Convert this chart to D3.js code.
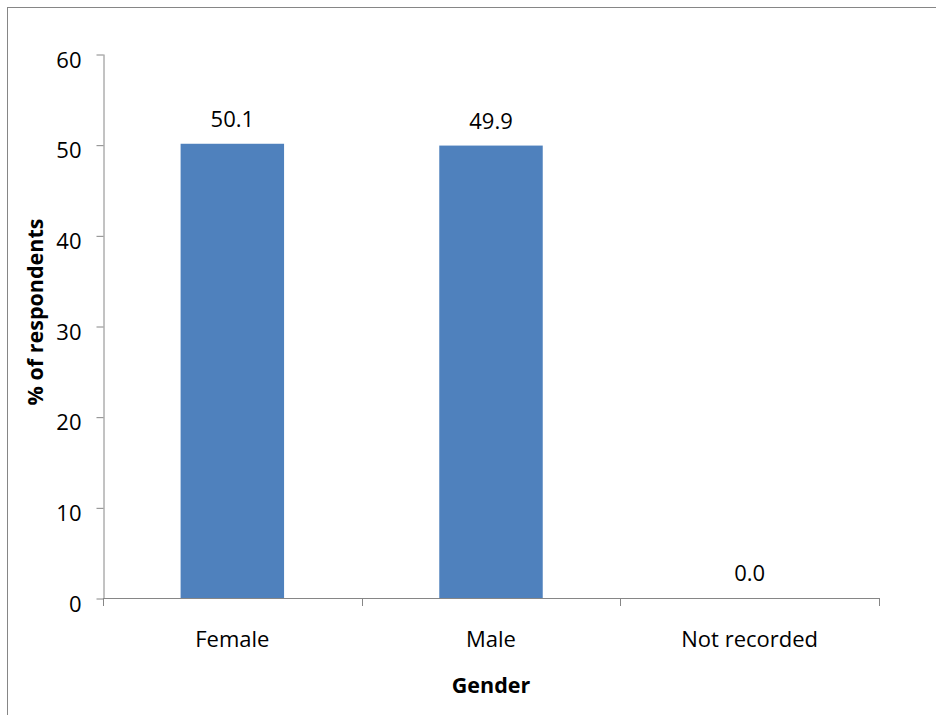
<!DOCTYPE html>
<html>
<head>
<meta charset="utf-8">
<script src="https://cdn.jsdelivr.net/npm/d3@7"></script>
<style>
  html, body { margin: 0; padding: 0; background: #fff; }
  svg { display: block; }
  text { font-family: "Open Sans", "Noto Sans", sans-serif; fill: #000; }
</style>
</head>
<body>
<svg id="chart" width="936" height="715"></svg>
<script>
// Respondents by gender (%)
const categories = ["Female", "Male", "Not recorded"];
const values = [50.1, 49.9, 0.0];
const yTicks = [0, 10, 20, 30, 40, 50, 60];
const yTitle = "% of respondents";
const xTitle = "Gender";

const svg = d3.select("#chart");
const plot = { left: 103, right: 879, top: 54, bottom: 598 };
const axisColor = "#868686";

// outer chart frame (extends past the window on the right and bottom)
svg.append("rect")
  .attr("x", 7.5).attr("y", 7.5)
  .attr("width", 1200).attr("height", 1200)
  .attr("fill", "none").attr("stroke", axisColor).attr("stroke-width", 1);

const x = d3.scaleBand()
  .domain(categories)
  .range([plot.left, plot.right])
  .paddingInner(0.6)
  .paddingOuter(0.3);

const y = d3.scaleLinear().domain([0, 60]).range([plot.bottom, plot.top]);

// y axis
const yAxis = svg.append("g")
  .attr("transform", `translate(${plot.left + 0.5},0)`)
  .call(d3.axisLeft(y).tickValues(yTicks).tickSize(7).tickPadding(15).tickSizeOuter(0));
yAxis.select(".domain").attr("stroke", axisColor);
yAxis.selectAll(".tick line").attr("stroke", axisColor).attr("transform", "translate(0,0.5)");
yAxis.selectAll(".tick text")
  .attr("font-size", 22)
  .attr("dy", "0.6em")
  .attr("fill", "#000")
  .style("font-family", "'Open Sans', 'Noto Sans', sans-serif");

// bars
svg.append("g").selectAll("rect")
  .data(categories)
  .join("rect")
  .attr("x", d => x(d))
  .attr("width", x.bandwidth())
  .attr("y", (d, i) => y(values[i]))
  .attr("height", (d, i) => y(0) - y(values[i]))
  .attr("fill", "#4F81BD");

// x axis: baseline with category boundary ticks
const xg = svg.append("g");
xg.append("line")
  .attr("x1", plot.left).attr("x2", plot.right)
  .attr("y1", plot.bottom + 0.5).attr("y2", plot.bottom + 0.5)
  .attr("stroke", axisColor);
const bounds = categories.map(c => x(c) - x.step() * x.paddingInner() / 2);
bounds.push(plot.right);
xg.selectAll("line.b")
  .data(bounds)
  .join("line")
  .attr("class", "b")
  .attr("x1", d => Math.round(d) + 0.5).attr("x2", d => Math.round(d) + 0.5)
  .attr("y1", plot.bottom).attr("y2", plot.bottom + 8)
  .attr("stroke", axisColor);

xg.selectAll("text.cat")
  .data(categories)
  .join("text")
  .attr("class", "cat")
  .attr("x", d => x(d) + x.bandwidth() / 2)
  .attr("y", plot.bottom + 49)
  .attr("text-anchor", "middle")
  .attr("font-size", 22)
  .text(d => d);

// value labels
svg.append("g").selectAll("text")
  .data(categories)
  .join("text")
  .attr("x", d => x(d) + x.bandwidth() / 2)
  .attr("y", (d, i) => y(values[i]) - 17)
  .attr("text-anchor", "middle")
  .attr("font-size", 22)
  .text((d, i) => values[i].toFixed(1));

// axis titles
svg.append("text")
  .attr("transform", "translate(43,312) rotate(-90)")
  .attr("text-anchor", "middle")
  .attr("font-size", 21.5)
  .attr("font-weight", "bold")
  .text(yTitle);

svg.append("text")
  .attr("x", 491)
  .attr("y", 693)
  .attr("text-anchor", "middle")
  .attr("font-size", 21.5)
  .attr("font-weight", "bold")
  .text(xTitle);
</script>
</body>
</html>
